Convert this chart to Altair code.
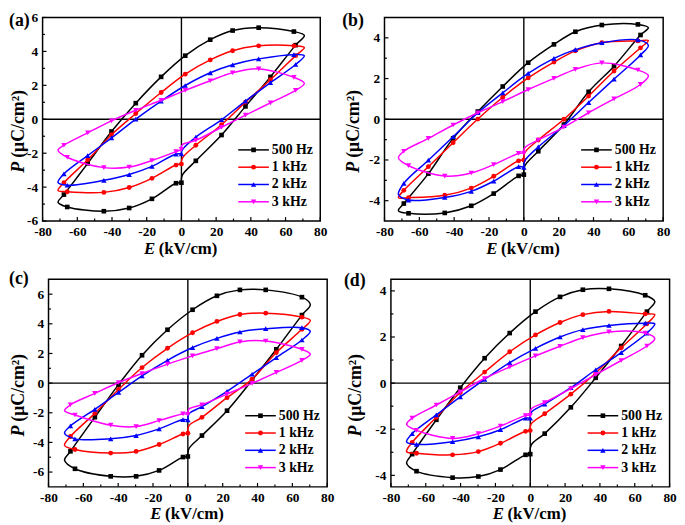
import altair as alt
import pandas as pd

SERIES = ["500 Hz", "1 kHz", "2 kHz", "3 kHz"]
COLORS = ["#000000", "#ff0000", "#0000ff", "#ff00ff"]
SHAPES = ["square", "circle", "triangle-up", "triangle-down"]
SIZES = [22, 24, 30, 30]
# 1 = sample drawn with a marker
MARKED = [1, 0, 1, 1, 1, 1, 1, 0, 1, 1, 1, 1, 1, 1, 1, 1, 1, 1, 0, 1, 1, 1, 1, 1, 0]

# ---------------- panel (a) ----------------
E_A = [0, 0.5, 8.3, 23.1, 36.9, 51.3, 65.8, 70.8, 64.8, 44.5, 29.5, 16.6, 2.2, -11.7, -26.3, -40.3, -54.0, -67.7, -71.1, -65.8, -44.7, -30.1, -17.0, -3.1, 0]
P_A_500 = [-3.74, -3.3, -2.45, -0.93, 0.76, 2.5, 4.37, 4.94, 5.17, 5.40, 5.23, 4.69, 3.75, 2.50, 0.95, -0.72, -2.6, -4.44, -4.89, -5.17, -5.42, -5.23, -4.69, -3.77, -3.74]
P_A_1K = [-2.64, -2.3, -1.53, -0.32, 1.01, 2.33, 3.75, 4.23, 4.33, 4.33, 4.04, 3.5, 2.66, 1.58, 0.34, -0.91, -2.39, -3.74, -4.2, -4.27, -4.31, -4.02, -3.48, -2.70, -2.64]
P_A_2K = [-2.04, -1.8, -1.05, -0.03, 1.07, 2.16, 3.23, 3.75, 3.81, 3.56, 3.21, 2.74, 1.99, 1.07, 0.01, -1.10, -2.14, -3.22, -3.73, -3.89, -3.60, -3.26, -2.78, -2.05, -2.04]
P_A_3K = [-1.78, -1.5, -1.24, -0.47, 0.24, 0.97, 1.70, 2.12, 2.47, 2.97, 2.74, 2.27, 1.70, 1.12, 0.53, -0.09, -0.80, -1.53, -1.81, -2.24, -2.85, -2.82, -2.43, -1.91, -1.78]

# ---------------- panel (b) ----------------
E_B = [0, 0.5, 8.3, 23.0, 37.2, 51.8, 67.0, 71.5, 65.5, 44.8, 29.6, 17.3, 2.5, -12.1, -26.4, -40.6, -54.8, -68.9, -72.0, -66.2, -45.4, -30.2, -17.3, -3.0, 0]
P_B_500 = [-2.72, -2.3, -1.57, -0.26, 1.35, 2.61, 4.14, 4.5, 4.66, 4.63, 4.30, 3.68, 2.78, 1.61, 0.38, -0.94, -2.67, -4.14, -4.49, -4.62, -4.6, -4.25, -3.65, -2.78, -2.72]
P_B_1K = [-2.0, -1.65, -1.02, 0.0, 1.14, 2.37, 3.51, 3.87, 3.85, 3.76, 3.36, 2.81, 2.03, 1.08, 0.01, -1.15, -2.33, -3.49, -3.85, -3.85, -3.73, -3.38, -2.80, -2.04, -2.0]
P_B_2K = [-2.36, -2.05, -1.36, -0.31, 0.82, 1.97, 3.16, 3.63, 3.90, 3.76, 3.42, 2.99, 2.25, 1.30, 0.32, -0.86, -2.01, -3.15, -3.7, -3.97, -3.84, -3.54, -3.04, -2.33, -2.36]
P_B_3K = [-1.66, -1.41, -1.02, -0.39, 0.32, 1.0, 1.71, 2.14, 2.42, 2.77, 2.45, 2.01, 1.46, 0.87, 0.32, -0.28, -0.94, -1.57, -1.89, -2.28, -2.79, -2.64, -2.23, -1.68, -1.66]

# ---------------- panel (c) ----------------
E_C = [0, 0.6, 8.1, 22.5, 36.9, 50.8, 65.5, 70.3, 65.5, 44.7, 29.9, 16.7, 2.7, -11.7, -26.3, -39.8, -53.4, -67.4, -70.8, -64.8, -44.3, -29.7, -16.5, -2.8, 0]
P_C_500 = [-4.95, -4.43, -3.54, -1.86, 0.2, 2.28, 4.59, 5.3, 5.80, 6.29, 6.29, 5.89, 4.95, 3.60, 1.88, -0.1, -2.3, -4.6, -5.2, -5.78, -6.29, -6.29, -5.89, -4.99, -4.95]
P_C_1K = [-3.38, -2.87, -2.31, -0.98, 0.27, 2.06, 3.63, 4.23, 4.45, 4.72, 4.63, 4.16, 3.40, 2.35, 1.05, -0.43, -2.04, -3.6, -4.2, -4.48, -4.72, -4.61, -4.14, -3.43, -3.38]
P_C_2K = [-2.48, -2.08, -1.59, -0.56, 0.6, 1.72, 2.91, 3.5, 3.74, 3.67, 3.45, 3.02, 2.40, 1.54, 0.49, -0.63, -1.77, -2.89, -3.38, -3.76, -3.76, -3.54, -3.09, -2.46, -2.48]
P_C_3K = [-2.1, -1.75, -1.46, -0.74, -0.02, 0.72, 1.54, 1.95, 2.28, 2.84, 2.78, 2.33, 1.84, 1.28, 0.65, 0.04, -0.69, -1.46, -1.86, -2.15, -2.84, -2.93, -2.53, -2.08, -2.1]

# ---------------- panel (d) ----------------
E_D = [0, 0.6, 8.3, 23.3, 37.6, 52.2, 67.0, 71.5, 66.0, 45.2, 30.2, 17.1, 3.0, -11.8, -26.2, -40.2, -53.9, -67.8, -71.0, -65.3, -44.6, -29.8, -17.1, -2.7, 0]
P_D_500 = [-3.08, -2.68, -2.19, -1.05, 0.23, 1.61, 3.10, 3.54, 3.81, 4.09, 4.05, 3.74, 3.10, 2.17, 1.08, -0.2, -1.59, -3.08, -3.47, -3.82, -4.10, -4.05, -3.75, -3.11, -3.08]
P_D_1K = [-2.06, -1.76, -1.33, -0.48, 0.44, 1.53, 2.57, 2.97, 3.0, 3.11, 2.97, 2.63, 2.09, 1.36, 0.48, -0.41, -1.48, -2.57, -2.97, -3.04, -3.11, -2.97, -2.61, -2.09, -2.06]
P_D_2K = [-1.52, -1.27, -0.91, -0.2, 0.58, 1.32, 2.17, 2.57, 2.60, 2.50, 2.32, 2.0, 1.51, 0.89, 0.16, -0.6, -1.38, -2.19, -2.55, -2.66, -2.54, -2.33, -2.02, -1.52, -1.52]
P_D_3K = [-1.4, -1.12, -0.84, -0.24, 0.37, 0.98, 1.61, 1.93, 2.17, 2.22, 1.97, 1.6, 1.18, 0.7, 0.2, -0.38, -0.95, -1.52, -1.79, -2.05, -2.4, -2.19, -1.86, -1.41, -1.4]

X_MAJOR = [-80, -60, -40, -20, 0, 20, 40, 60, 80]
X_MINOR = [-70, -50, -30, -10, 10, 30, 50, 70]
X_DOMAIN = [-80, 80]

FONT = "Liberation Serif"
LABEL_EXPR = "datum.value < 0 ? '-' + (-datum.value) : '' + datum.value"


def panel(tag, E, P_list, ydom, ymajor, yminor, w, h, dx, tagx, tagy, ytx):
    """dx = empty inset on the left of the view, so that the frame can sit further right."""
    xs = alt.Scale(domain=X_DOMAIN, range=[dx, dx + w], nice=False, zero=False)
    ys = alt.Scale(domain=ydom, nice=False, zero=False)
    xa = alt.Axis(values=X_MAJOR, title=None, tickSize=0, domain=False, grid=False,
                  labelFlush=False, labelFont=FONT, labelFontSize=13.5, labelFontWeight="bold",
                  labelColor="black", labelPadding=4, labelExpr=LABEL_EXPR)
    ya = alt.Axis(values=ymajor, title=None, tickSize=0, domain=False, grid=False, offset=-dx,
                  labelFlush=False, labelFont=FONT, labelFontSize=13.5, labelFontWeight="bold",
                  labelColor="black", labelPadding=5, labelExpr=LABEL_EXPR)

    layers = []
    fd = pd.DataFrame({"v": [0]})
    # frame
    layers.append(alt.Chart(fd).mark_rect(fill="white", fillOpacity=0, stroke="black", strokeWidth=1.5)
                  .encode(x=alt.value(dx), x2=alt.value(dx + w), y=alt.value(0), y2=alt.value(h)))
    # zero lines
    layers.append(alt.Chart(fd).mark_rule(color="black", strokeWidth=1.4)
                  .encode(x=alt.X("v:Q", scale=xs, axis=xa)))
    layers.append(alt.Chart(fd).mark_rule(color="black", strokeWidth=1.4)
                  .encode(y=alt.Y("v:Q", scale=ys, axis=ya), x=alt.value(dx), x2=alt.value(dx + w)))
    # inward ticks
    for vals, ln in ((X_MAJOR, 4), (X_MINOR, 2.5)):
        layers.append(alt.Chart(pd.DataFrame({"t": vals})).mark_rule(color="black", strokeWidth=1.2)
                      .encode(x=alt.X("t:Q", scale=xs, axis=xa), y=alt.value(h), y2=alt.value(h - ln)))
    for vals, ln in ((ymajor, 4), (yminor, 2.5)):
        layers.append(alt.Chart(pd.DataFrame({"t": vals})).mark_rule(color="black", strokeWidth=1.2)
                      .encode(y=alt.Y("t:Q", scale=ys, axis=ya), x=alt.value(dx), x2=alt.value(dx + ln)))

    # loops
    for k, P in enumerate(P_list):
        df = pd.DataFrame({"E": E, "P": P, "i": list(range(len(E))), "m": MARKED})
        base = alt.Chart(df)
        layers.append(base.mark_line(color=COLORS[k], strokeWidth=1.5, interpolate="catmull-rom")
                      .encode(x=alt.X("E:Q", scale=xs, axis=xa), y=alt.Y("P:Q", scale=ys, axis=ya),
                              order="i:Q"))
        layers.append(base.transform_filter("datum.m == 1")
                      .mark_point(shape=SHAPES[k], filled=True, size=SIZES[k], color=COLORS[k], opacity=1)
                      .encode(x=alt.X("E:Q", scale=xs, axis=xa), y=alt.Y("P:Q", scale=ys, axis=ya)))

    # legend (drawn inside the plot, lower right)
    R = dx + w
    for k, name in enumerate(SERIES):
        yr = h - 19.5 - 17.5 * (3 - k)
        ld = pd.DataFrame({"s": [name]})
        layers.append(alt.Chart(ld).mark_rule(color=COLORS[k], strokeWidth=1.5)
                      .encode(x=alt.value(R - 83), x2=alt.value(R - 52), y=alt.value(yr)))
        layers.append(alt.Chart(ld).mark_point(shape=SHAPES[k], filled=True, size=SIZES[k], color=COLORS[k], opacity=1)
                      .encode(x=alt.value(R - 67.5), y=alt.value(yr)))
        layers.append(alt.Chart(ld).mark_text(align="left", baseline="middle", font=FONT, fontSize=14,
                                              fontWeight="bold", color="black")
                      .encode(text="s:N", x=alt.value(R - 49), y=alt.value(yr)))

    # panel tag and axis titles
    td = pd.DataFrame({"t": [tag], "e": ["E"], "u": ["(kV/cm)"], "p": ["P"], "q": ["(\u03bcC/cm\u00b2)"]})
    tb = alt.Chart(td)
    cx = dx + w / 2
    layers.append(tb.mark_text(align="left", baseline="middle", font=FONT, fontSize=18, fontWeight="bold", color="black")
                  .encode(text="t:N", x=alt.value(dx + tagx), y=alt.value(tagy)))
    layers.append(tb.mark_text(align="left", baseline="alphabetic", font=FONT, fontSize=17, fontWeight="bold",
                               fontStyle="italic", color="black")
                  .encode(text="e:N", x=alt.value(cx - 38), y=alt.value(h + 33)))
    layers.append(tb.mark_text(align="left", baseline="alphabetic", font=FONT, fontSize=17, fontWeight="bold", color="black")
                  .encode(text="u:N", x=alt.value(cx - 23), y=alt.value(h + 33)))
    layers.append(tb.mark_text(align="left", baseline="middle", angle=270, font=FONT, fontSize=18, fontWeight="bold",
                               fontStyle="italic", color="black")
                  .encode(text="p:N", x=alt.value(dx + ytx), y=alt.value(h / 2 + 54)))
    layers.append(tb.mark_text(align="left", baseline="middle", angle=270, font=FONT, fontSize=18, fontWeight="bold", color="black")
                  .encode(text="q:N", x=alt.value(dx + ytx), y=alt.value(h / 2 + 39)))

    return alt.layer(*layers).properties(width=w + dx, height=h)


pa = panel("(a)", E_A, [P_A_500, P_A_1K, P_A_2K, P_A_3K], [-6, 6], [-6, -4, -2, 0, 2, 4, 6], [-5, -3, -1, 1, 3, 5],
           281, 206, 0, -34, 4, -24)
pb = panel("(b)", E_B, [P_B_500, P_B_1K, P_B_2K, P_B_3K], [-5, 5], [-4, -2, 0, 2, 4], [-3, -1, 1, 3],
           282, 206, 0, -42.8, 4, -31)
pc = panel("(c)", E_C, [P_C_500, P_C_1K, P_C_2K, P_C_3K], [-7, 7], [-6, -4, -2, 0, 2, 4, 6], [-5, -3, -1, 1, 3, 5],
           282, 210, 6, -40, 0, -30)
pd_ = panel("(d)", E_D, [P_D_500, P_D_1K, P_D_2K, P_D_3K], [-4.5, 4.5], [-4, -2, 0, 2, 4], [-3, -1, 1, 3],
            282, 210, 6.5, -47.6, 2, -35)

chart = alt.concat(pa, pb, pc, pd_, columns=2, spacing={"row": 59, "column": 58},
                   bounds="flush", align="each").properties(
    padding={"left": 0, "top": -1.5, "right": 0, "bottom": 0},
    background="white",
).configure_view(stroke="transparent").resolve_scale(x="independent", y="independent")

chart.save("out.html", embed_options={"renderer": "svg", "actions": False})
